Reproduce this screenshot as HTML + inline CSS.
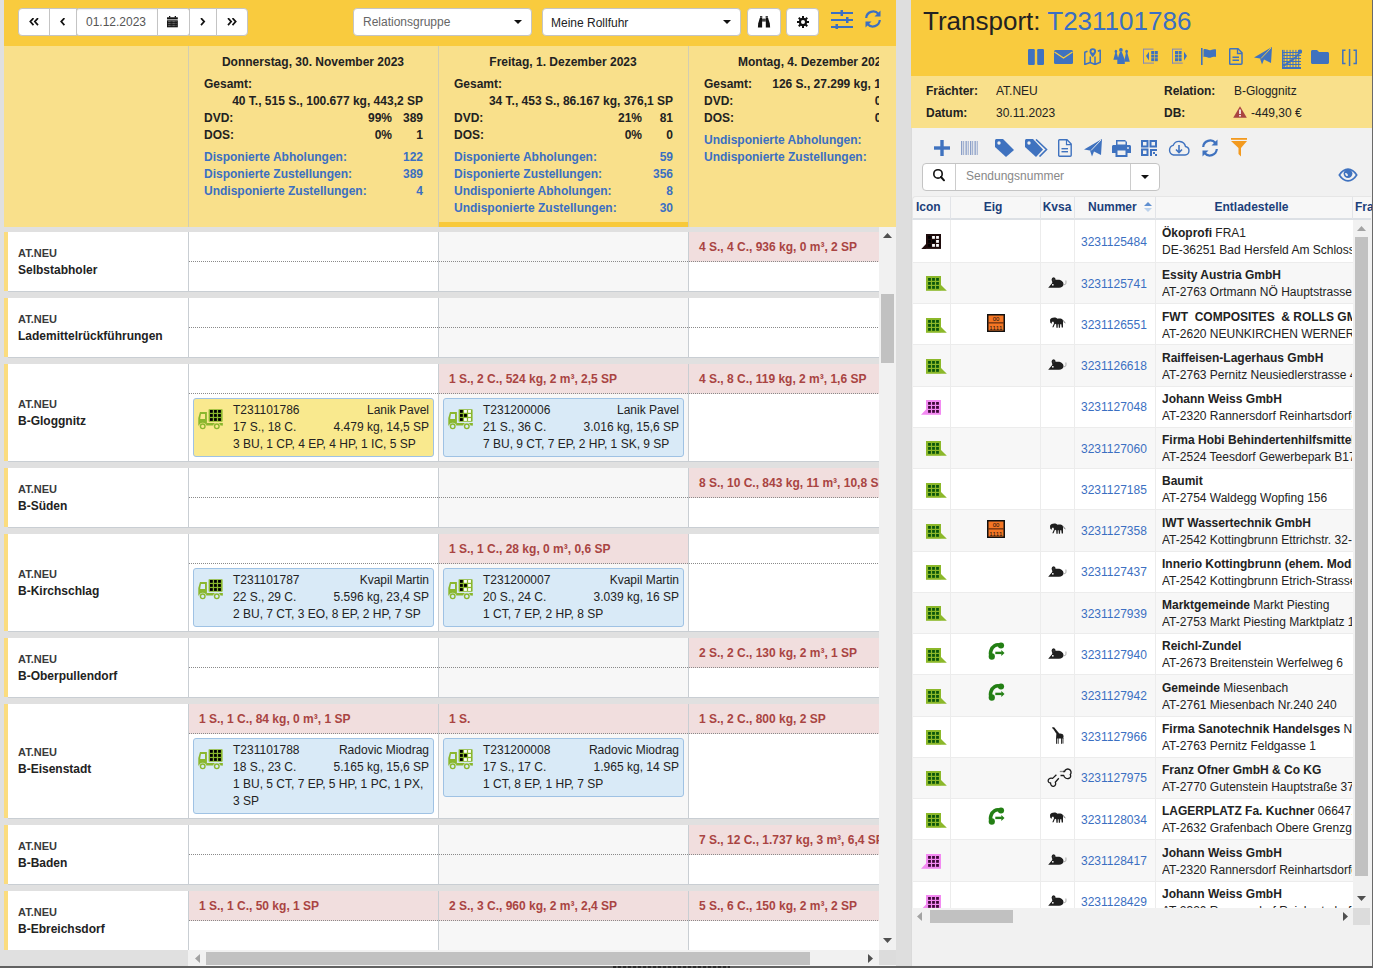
<!DOCTYPE html><html><head><meta charset="utf-8"><title>Disposition</title><style>
*{box-sizing:border-box;margin:0;padding:0}
html,body{width:1373px;height:968px;overflow:hidden}
body{position:relative;background:#e0e0e0;font-family:"Liberation Sans", sans-serif;font-size:12px;color:#222;line-height:17px}
.abs{position:absolute}
.b{font-weight:bold}
.btn{position:absolute;background:#fff;border:1px solid #c4c4c4;height:28px;top:8px;display:flex;align-items:center;justify-content:center;color:#111}
.hdr{position:absolute;top:46px;height:181px;background:#f9e08b}
.col{position:absolute;top:0;height:181px;width:250px;overflow:hidden}
.t{position:absolute;white-space:nowrap;font-weight:bold}
.r{text-align:right}
.bl{color:#3b6fc2}
.row{position:absolute;left:8px;width:871px;background:#fff;border-bottom:1px solid #c9ced3;overflow:hidden}
.lab{position:absolute;left:0;top:0;width:180px;display:flex;flex-direction:column;justify-content:center;padding-left:10px}
.lab .c{font-size:11px;font-weight:bold;color:#3a3a3a;line-height:17px}
.lab .n{font-size:12px;font-weight:bold;color:#222;line-height:17px}
.vl{position:absolute;top:0;width:1px;background:#c9ced3}
.top{position:absolute;height:30px;border-bottom:1px dotted #8a8a8a}
.pk{background:#f1dede;color:#a94442;font-weight:bold;padding-left:10px;line-height:30px;white-space:nowrap;overflow:hidden}
.card{position:absolute;border:1px solid #9fc2e4;border-radius:3px;background:#d9eaf7;padding:3px 4px 3px 39px;line-height:17px;color:#222}
.card.y{background:#f9e98e}
.card .l{display:flex;justify-content:space-between;white-space:nowrap}
.truck{position:absolute;left:4px;top:10px}

</style></head><body>
<div class="abs" style="left:4px;top:0;width:892px;height:46px;background:#f9cb3e"></div>
<div class="btn" style="left:18px;width:32px;border-radius:4px 0 0 4px"><svg width="10" height="8" viewBox="0 0.4 10 8"><path d="M4.5 0.5L1.3 4L4.5 7.5M9 0.5L5.8 4L9 7.5" fill="none" stroke="#111" stroke-width="1.7"/></svg></div>
<div class="btn" style="left:49px;width:28px;"><svg width="6" height="8" viewBox="0.3 0.4 6 8"><path d="M4.7 0.5L1.5 4L4.7 7.5" fill="none" stroke="#111" stroke-width="1.7"/></svg></div>
<div class="btn" style="left:76px;width:82px;border-radius:3px 0 0 3px;box-shadow:inset 0 1px 1px rgba(0,0,0,.06)"><span style="color:#555;font-size:12px;position:relative;left:-1px">01.12.2023</span></div>
<div class="btn" style="left:157px;width:33px;border-radius:0 3px 3px 0"><svg width="11" height="12" viewBox="0 0 11 12" style="position:relative;left:-1px;top:-0.5px"><g fill="#111"><rect x="2" y="0" width="1.3" height="1.6"/><rect x="7.7" y="0" width="1.3" height="1.6"/><rect x="0" y="1.3" width="10.8" height="2.1"/><rect x="0" y="4.3" width="10.8" height="7"/></g><rect x="0.9" y="5.2" width="0.7" height="1" fill="#9a9a9a"/><rect x="2.2" y="5.2" width="0.7" height="1" fill="#9a9a9a"/><rect x="3.5" y="5.2" width="0.7" height="1" fill="#9a9a9a"/><rect x="4.8" y="5.2" width="0.7" height="1" fill="#9a9a9a"/><rect x="6.1" y="5.2" width="0.7" height="1" fill="#9a9a9a"/><rect x="7.4" y="5.2" width="0.7" height="1" fill="#9a9a9a"/><rect x="8.7" y="5.2" width="0.7" height="1" fill="#9a9a9a"/><rect x="0.9" y="7.2" width="0.7" height="1" fill="#9a9a9a"/><rect x="2.2" y="7.2" width="0.7" height="1" fill="#9a9a9a"/><rect x="3.5" y="7.2" width="0.7" height="1" fill="#9a9a9a"/><rect x="4.8" y="7.2" width="0.7" height="1" fill="#9a9a9a"/><rect x="6.1" y="7.2" width="0.7" height="1" fill="#9a9a9a"/><rect x="7.4" y="7.2" width="0.7" height="1" fill="#9a9a9a"/><rect x="8.7" y="7.2" width="0.7" height="1" fill="#9a9a9a"/><rect x="0.9" y="9.2" width="0.7" height="1" fill="#9a9a9a"/><rect x="2.2" y="9.2" width="0.7" height="1" fill="#9a9a9a"/><rect x="3.5" y="9.2" width="0.7" height="1" fill="#9a9a9a"/><rect x="4.8" y="9.2" width="0.7" height="1" fill="#9a9a9a"/><rect x="6.1" y="9.2" width="0.7" height="1" fill="#9a9a9a"/><rect x="7.4" y="9.2" width="0.7" height="1" fill="#9a9a9a"/><rect x="8.7" y="9.2" width="0.7" height="1" fill="#9a9a9a"/></svg></div>
<div class="btn" style="left:189px;width:28px;"><svg width="6" height="8" viewBox="0.3 0.4 6 8"><path d="M1.3 0.5L4.5 4L1.3 7.5" fill="none" stroke="#111" stroke-width="1.7"/></svg></div>
<div class="btn" style="left:216px;width:32px;border-radius:0 4px 4px 0"><svg width="10" height="8" viewBox="0 0.4 10 8"><path d="M1 0.5L4.2 4L1 7.5M5.5 0.5L8.7 4L5.5 7.5" fill="none" stroke="#111" stroke-width="1.7"/></svg></div>
<div class="btn" style="left:353px;width:179px;border-radius:4px;justify-content:space-between;padding:0 9px 0 9px"><span style="color:#666">Relationsgruppe</span><svg width="8" height="4" viewBox="0 0 8 4"><path d="M0 0H8L4 4Z" fill="#111"/></svg></div>
<div class="btn" style="left:542px;width:199px;border-radius:4px;justify-content:space-between;padding:0 9px 0 8px"><span style="color:#222;position:relative;top:1px">Meine Rollfuhr</span><svg width="8" height="4" viewBox="0 0 8 4"><path d="M0 0H8L4 4Z" fill="#111"/></svg></div>
<div class="btn" style="left:747px;width:34px;border-radius:4px"><svg width="14" height="12" viewBox="0 0 14 12"><g fill="#111"><rect x="3" y="0.2" width="2.3" height="1.5"/><rect x="8.6" y="0.2" width="2.3" height="1.5"/><path d="M2.8 2.1H5.1V11.5H0.9L1.2 7.5Z"/><path d="M8.8 2.1H11.1L12.8 7.5L13.1 11.5H8.8Z"/></g><rect x="5" y="2.6" width="3.9" height="3" fill="#444"/></svg></div>
<div class="btn" style="left:786px;width:33px;border-radius:4px"><svg width="12" height="12" viewBox="0 0 12 12"><g fill="#111"><circle cx="6" cy="6" r="4.2"/><rect x="5" y="0" width="2" height="12"/><rect x="0" y="5" width="12" height="2"/><rect x="5" y="0" width="2" height="12" transform="rotate(45 6 6)"/><rect x="5" y="0" width="2" height="12" transform="rotate(-45 6 6)"/></g><circle cx="6" cy="6" r="2" fill="#fff"/></svg></div>
<svg class="abs" style="left:831px;top:10px" width="22" height="19" viewBox="0 0 22 19"><g stroke="#3b6fc2" stroke-width="2"><path d="M0 3H22M0 10H22M0 17H22"/></g><g fill="#3b6fc2"><rect x="9.5" y="0" width="2.5" height="6"/><rect x="15" y="7" width="2.5" height="6"/><rect x="4.5" y="14" width="2.5" height="5"/></g></svg>
<svg class="abs" style="left:864px;top:10px" width="18" height="18" viewBox="0 0 18 18"><g fill="none" stroke="#3b6fc2" stroke-width="2.2"><path d="M2.2 8A7 7 0 0 1 14.5 4"/><path d="M15.8 10A7 7 0 0 1 3.5 14"/></g><path d="M16.5 0.5V6.5H10.5Z" fill="#3b6fc2"/><path d="M1.5 17.5V11.5H7.5Z" fill="#3b6fc2"/></svg>
<div class="hdr" style="left:4px;width:892px"></div>
<div class="abs" style="left:188px;top:46px;width:1px;height:181px;background:#d3cdb0"></div>
<div class="abs" style="left:438px;top:46px;width:1px;height:181px;background:#d3cdb0"></div>
<div class="abs" style="left:688px;top:46px;width:1px;height:181px;background:#d3cdb0"></div>
<div class="abs" style="left:439px;top:222px;width:249px;height:5px;background:#f8c93a"></div>
<div class="abs" style="left:188px;top:46px;width:250px;height:181px;overflow:hidden;clip-path:inset(0 0px 0 0)"><div class="t" style="left:0;width:250px;text-align:center;top:8px">Donnerstag, 30. November 2023</div><div class="t" style="left:16px;top:30px">Gesamt:</div><div class="t r" style="right:15px;top:47px">40 T., 515 S., 100.677 kg, 443,2 SP</div><div class="t" style="left:16px;top:64px">DVD:</div><div class="t r" style="right:46px;top:64px">99%</div><div class="t r" style="right:15px;top:64px">389</div><div class="t" style="left:16px;top:81px">DOS:</div><div class="t r" style="right:46px;top:81px">0%</div><div class="t r" style="right:15px;top:81px">1</div><div class="t bl" style="left:16px;top:103px">Disponierte Abholungen:</div><div class="t bl r" style="right:15px;top:103px">122</div><div class="t bl" style="left:16px;top:120px">Disponierte Zustellungen:</div><div class="t bl r" style="right:15px;top:120px">389</div><div class="t bl" style="left:16px;top:137px">Undisponierte Zustellungen:</div><div class="t bl r" style="right:15px;top:137px">4</div></div>
<div class="abs" style="left:438px;top:46px;width:250px;height:181px;overflow:hidden;clip-path:inset(0 0px 0 0)"><div class="t" style="left:0;width:250px;text-align:center;top:8px">Freitag, 1. Dezember 2023</div><div class="t" style="left:16px;top:30px">Gesamt:</div><div class="t r" style="right:15px;top:47px">34 T., 453 S., 86.167 kg, 376,1 SP</div><div class="t" style="left:16px;top:64px">DVD:</div><div class="t r" style="right:46px;top:64px">21%</div><div class="t r" style="right:15px;top:64px">81</div><div class="t" style="left:16px;top:81px">DOS:</div><div class="t r" style="right:46px;top:81px">0%</div><div class="t r" style="right:15px;top:81px">0</div><div class="t bl" style="left:16px;top:103px">Disponierte Abholungen:</div><div class="t bl r" style="right:15px;top:103px">59</div><div class="t bl" style="left:16px;top:120px">Disponierte Zustellungen:</div><div class="t bl r" style="right:15px;top:120px">356</div><div class="t bl" style="left:16px;top:137px">Undisponierte Abholungen:</div><div class="t bl r" style="right:15px;top:137px">8</div><div class="t bl" style="left:16px;top:154px">Undisponierte Zustellungen:</div><div class="t bl r" style="right:15px;top:154px">30</div></div>
<div class="abs" style="left:688px;top:46px;width:250px;height:181px;overflow:hidden;clip-path:inset(0 59px 0 0)"><div class="t" style="left:0;width:250px;text-align:center;top:8px">Montag, 4. Dezember 2023</div><div class="t" style="left:16px;top:30px">Gesamt:</div><div class="t r" style="right:15px;top:30px">126 S., 27.299 kg, 110,2 SP</div><div class="t" style="left:16px;top:47px">DVD:</div><div class="t r" style="right:46px;top:47px">0%</div><div class="t r" style="right:15px;top:47px">0</div><div class="t" style="left:16px;top:64px">DOS:</div><div class="t r" style="right:46px;top:64px">0%</div><div class="t r" style="right:15px;top:64px">0</div><div class="t bl" style="left:16px;top:86px">Undisponierte Abholungen:</div><div class="t bl r" style="right:15px;top:86px">10</div><div class="t bl" style="left:16px;top:103px">Undisponierte Zustellungen:</div><div class="t bl r" style="right:15px;top:103px">126</div></div>
<div class="abs" style="left:4px;top:227px;width:875px;height:723px;overflow:hidden">
<div class="abs" style="left:0;top:5px;width:4px;height:59px;background:#fbdc7e"></div>
<div class="row" style="left:4px;top:5px;height:60px">
<div class="lab" style="height:59px"><div class="c">AT.NEU</div><div class="n">Selbstabholer</div></div>
<div class="abs" style="left:431px;top:0;width:250px;height:59px;background:#f7f7f7"></div>
<div class="vl" style="left:180px;height:59px"></div>
<div class="top" style="left:181px;top:0;width:249px"></div>
<div class="vl" style="left:430px;height:59px"></div>
<div class="top" style="left:431px;top:0;width:249px"></div>
<div class="vl" style="left:680px;height:59px"></div>
<div class="top pk" style="left:681px;top:0;width:249px">4 S., 4 C., 936 kg, 0 m³, 2 SP</div>
</div>
<div class="abs" style="left:0;top:71px;width:4px;height:59px;background:#fbdc7e"></div>
<div class="row" style="left:4px;top:71px;height:60px">
<div class="lab" style="height:59px"><div class="c">AT.NEU</div><div class="n">Lademittelrückführungen</div></div>
<div class="abs" style="left:431px;top:0;width:250px;height:59px;background:#f7f7f7"></div>
<div class="vl" style="left:180px;height:59px"></div>
<div class="top" style="left:181px;top:0;width:249px"></div>
<div class="vl" style="left:430px;height:59px"></div>
<div class="top" style="left:431px;top:0;width:249px"></div>
<div class="vl" style="left:680px;height:59px"></div>
<div class="top" style="left:681px;top:0;width:249px"></div>
</div>
<div class="abs" style="left:0;top:137px;width:4px;height:97px;background:#fbdc7e"></div>
<div class="row" style="left:4px;top:137px;height:98px">
<div class="lab" style="height:97px"><div class="c">AT.NEU</div><div class="n">B-Gloggnitz</div></div>
<div class="abs" style="left:431px;top:0;width:250px;height:97px;background:#f7f7f7"></div>
<div class="vl" style="left:180px;height:97px"></div>
<div class="top" style="left:181px;top:0;width:249px"></div>
<div class="card y" style="left:185px;top:34px;width:241px"><svg class="truck" width="25" height="21" viewBox="0 0 25 21"><rect x="10.6" y="0.2" width="14" height="12.5" rx="0.6" fill="#8ab72e"/><rect x="12.00" y="1.00" width="2.8" height="2.8" fill="#000"/><rect x="16.05" y="1.00" width="2.8" height="2.8" fill="#000"/><rect x="20.10" y="1.00" width="2.8" height="2.8" fill="#000"/><rect x="12.00" y="5.05" width="2.8" height="2.8" fill="#000"/><rect x="16.05" y="5.05" width="2.8" height="2.8" fill="#000"/><rect x="20.10" y="5.05" width="2.8" height="2.8" fill="#000"/><rect x="12.00" y="9.10" width="2.8" height="2.8" fill="#000"/><rect x="16.05" y="9.10" width="2.8" height="2.8" fill="#000"/><rect x="20.10" y="9.10" width="2.8" height="2.8" fill="#000"/><path d="M2 3.1H8.9V16.4H0.3V9Z" fill="#8ab72e"/><path d="M3 5H7V10H2.2L2.6 7Z" fill="#f9e98e"/><rect x="8.9" y="14" width="15.7" height="2.5" fill="#8ab72e"/><circle cx="4.7" cy="17.3" r="3.6" fill="#f9e98e"/><circle cx="18.8" cy="17.3" r="3.6" fill="#f9e98e"/><circle cx="4.7" cy="17.3" r="2.3" fill="#f9e98e" stroke="#8ab72e" stroke-width="1.4"/><circle cx="18.8" cy="17.3" r="2.3" fill="#f9e98e" stroke="#8ab72e" stroke-width="1.4"/><path d="M23.2 14H24.6V16.5H23.8Z" fill="#8ab72e"/></svg><div class="l"><span>T231101786</span><span>Lanik Pavel</span></div><div class="l"><span>17 S., 18 C.</span><span>4.479 kg, 14,5 SP</span></div><div style="white-space:normal">3 BU, 1 CP, 4 EP, 4 HP, 1 IC, 5 SP</div></div>
<div class="vl" style="left:430px;height:97px"></div>
<div class="top pk" style="left:431px;top:0;width:249px">1 S., 2 C., 524 kg, 2 m³, 2,5 SP</div>
<div class="card" style="left:435px;top:34px;width:241px"><svg class="truck" width="25" height="21" viewBox="0 0 25 21"><rect x="10.6" y="0.2" width="14" height="12.5" rx="0.6" fill="#8ab72e"/><rect x="12.00" y="1.00" width="2.8" height="2.8" fill="#000"/><rect x="16.05" y="1.00" width="2.8" height="2.8" fill="#fff"/><rect x="20.10" y="1.00" width="2.8" height="2.8" fill="#fff"/><rect x="12.00" y="5.05" width="2.8" height="2.8" fill="#000"/><rect x="16.05" y="5.05" width="2.8" height="2.8" fill="#000"/><rect x="20.10" y="5.05" width="2.8" height="2.8" fill="#fff"/><rect x="12.00" y="9.10" width="2.8" height="2.8" fill="#000"/><rect x="16.05" y="9.10" width="2.8" height="2.8" fill="#fff"/><rect x="20.10" y="9.10" width="2.8" height="2.8" fill="#fff"/><path d="M2 3.1H8.9V16.4H0.3V9Z" fill="#8ab72e"/><path d="M3 5H7V10H2.2L2.6 7Z" fill="#d9eaf7"/><rect x="8.9" y="14" width="15.7" height="2.5" fill="#8ab72e"/><circle cx="4.7" cy="17.3" r="3.6" fill="#d9eaf7"/><circle cx="18.8" cy="17.3" r="3.6" fill="#d9eaf7"/><circle cx="4.7" cy="17.3" r="2.3" fill="#d9eaf7" stroke="#8ab72e" stroke-width="1.4"/><circle cx="18.8" cy="17.3" r="2.3" fill="#d9eaf7" stroke="#8ab72e" stroke-width="1.4"/><path d="M23.2 14H24.6V16.5H23.8Z" fill="#8ab72e"/></svg><div class="l"><span>T231200006</span><span>Lanik Pavel</span></div><div class="l"><span>21 S., 36 C.</span><span>3.016 kg, 15,6 SP</span></div><div style="white-space:normal">7 BU, 9 CT, 7 EP, 2 HP, 1 SK, 9 SP</div></div>
<div class="vl" style="left:680px;height:97px"></div>
<div class="top pk" style="left:681px;top:0;width:249px">4 S., 8 C., 119 kg, 2 m³, 1,6 SP</div>
</div>
<div class="abs" style="left:0;top:241px;width:4px;height:59px;background:#fbdc7e"></div>
<div class="row" style="left:4px;top:241px;height:60px">
<div class="lab" style="height:59px"><div class="c">AT.NEU</div><div class="n">B-Süden</div></div>
<div class="abs" style="left:431px;top:0;width:250px;height:59px;background:#f7f7f7"></div>
<div class="vl" style="left:180px;height:59px"></div>
<div class="top" style="left:181px;top:0;width:249px"></div>
<div class="vl" style="left:430px;height:59px"></div>
<div class="top" style="left:431px;top:0;width:249px"></div>
<div class="vl" style="left:680px;height:59px"></div>
<div class="top pk" style="left:681px;top:0;width:249px">8 S., 10 C., 843 kg, 11 m³, 10,8 SP</div>
</div>
<div class="abs" style="left:0;top:307px;width:4px;height:97px;background:#fbdc7e"></div>
<div class="row" style="left:4px;top:307px;height:98px">
<div class="lab" style="height:97px"><div class="c">AT.NEU</div><div class="n">B-Kirchschlag</div></div>
<div class="abs" style="left:431px;top:0;width:250px;height:97px;background:#f7f7f7"></div>
<div class="vl" style="left:180px;height:97px"></div>
<div class="top" style="left:181px;top:0;width:249px"></div>
<div class="card" style="left:185px;top:34px;width:241px"><svg class="truck" width="25" height="21" viewBox="0 0 25 21"><rect x="10.6" y="0.2" width="14" height="12.5" rx="0.6" fill="#8ab72e"/><rect x="12.00" y="1.00" width="2.8" height="2.8" fill="#000"/><rect x="16.05" y="1.00" width="2.8" height="2.8" fill="#000"/><rect x="20.10" y="1.00" width="2.8" height="2.8" fill="#000"/><rect x="12.00" y="5.05" width="2.8" height="2.8" fill="#000"/><rect x="16.05" y="5.05" width="2.8" height="2.8" fill="#000"/><rect x="20.10" y="5.05" width="2.8" height="2.8" fill="#000"/><rect x="12.00" y="9.10" width="2.8" height="2.8" fill="#000"/><rect x="16.05" y="9.10" width="2.8" height="2.8" fill="#000"/><rect x="20.10" y="9.10" width="2.8" height="2.8" fill="#000"/><path d="M2 3.1H8.9V16.4H0.3V9Z" fill="#8ab72e"/><path d="M3 5H7V10H2.2L2.6 7Z" fill="#d9eaf7"/><rect x="8.9" y="14" width="15.7" height="2.5" fill="#8ab72e"/><circle cx="4.7" cy="17.3" r="3.6" fill="#d9eaf7"/><circle cx="18.8" cy="17.3" r="3.6" fill="#d9eaf7"/><circle cx="4.7" cy="17.3" r="2.3" fill="#d9eaf7" stroke="#8ab72e" stroke-width="1.4"/><circle cx="18.8" cy="17.3" r="2.3" fill="#d9eaf7" stroke="#8ab72e" stroke-width="1.4"/><path d="M23.2 14H24.6V16.5H23.8Z" fill="#8ab72e"/></svg><div class="l"><span>T231101787</span><span>Kvapil Martin</span></div><div class="l"><span>22 S., 29 C.</span><span>5.596 kg, 23,4 SP</span></div><div style="white-space:normal">2 BU, 7 CT, 3 EO, 8 EP, 2 HP, 7 SP</div></div>
<div class="vl" style="left:430px;height:97px"></div>
<div class="top pk" style="left:431px;top:0;width:249px">1 S., 1 C., 28 kg, 0 m³, 0,6 SP</div>
<div class="card" style="left:435px;top:34px;width:241px"><svg class="truck" width="25" height="21" viewBox="0 0 25 21"><rect x="10.6" y="0.2" width="14" height="12.5" rx="0.6" fill="#8ab72e"/><rect x="12.00" y="1.00" width="2.8" height="2.8" fill="#000"/><rect x="16.05" y="1.00" width="2.8" height="2.8" fill="#fff"/><rect x="20.10" y="1.00" width="2.8" height="2.8" fill="#fff"/><rect x="12.00" y="5.05" width="2.8" height="2.8" fill="#000"/><rect x="16.05" y="5.05" width="2.8" height="2.8" fill="#000"/><rect x="20.10" y="5.05" width="2.8" height="2.8" fill="#fff"/><rect x="12.00" y="9.10" width="2.8" height="2.8" fill="#000"/><rect x="16.05" y="9.10" width="2.8" height="2.8" fill="#fff"/><rect x="20.10" y="9.10" width="2.8" height="2.8" fill="#fff"/><path d="M2 3.1H8.9V16.4H0.3V9Z" fill="#8ab72e"/><path d="M3 5H7V10H2.2L2.6 7Z" fill="#d9eaf7"/><rect x="8.9" y="14" width="15.7" height="2.5" fill="#8ab72e"/><circle cx="4.7" cy="17.3" r="3.6" fill="#d9eaf7"/><circle cx="18.8" cy="17.3" r="3.6" fill="#d9eaf7"/><circle cx="4.7" cy="17.3" r="2.3" fill="#d9eaf7" stroke="#8ab72e" stroke-width="1.4"/><circle cx="18.8" cy="17.3" r="2.3" fill="#d9eaf7" stroke="#8ab72e" stroke-width="1.4"/><path d="M23.2 14H24.6V16.5H23.8Z" fill="#8ab72e"/></svg><div class="l"><span>T231200007</span><span>Kvapil Martin</span></div><div class="l"><span>20 S., 24 C.</span><span>3.039 kg, 16 SP</span></div><div style="white-space:normal">1 CT, 7 EP, 2 HP, 8 SP</div></div>
<div class="vl" style="left:680px;height:97px"></div>
<div class="top" style="left:681px;top:0;width:249px"></div>
</div>
<div class="abs" style="left:0;top:411px;width:4px;height:59px;background:#fbdc7e"></div>
<div class="row" style="left:4px;top:411px;height:60px">
<div class="lab" style="height:59px"><div class="c">AT.NEU</div><div class="n">B-Oberpullendorf</div></div>
<div class="abs" style="left:431px;top:0;width:250px;height:59px;background:#f7f7f7"></div>
<div class="vl" style="left:180px;height:59px"></div>
<div class="top" style="left:181px;top:0;width:249px"></div>
<div class="vl" style="left:430px;height:59px"></div>
<div class="top" style="left:431px;top:0;width:249px"></div>
<div class="vl" style="left:680px;height:59px"></div>
<div class="top pk" style="left:681px;top:0;width:249px">2 S., 2 C., 130 kg, 2 m³, 1 SP</div>
</div>
<div class="abs" style="left:0;top:477px;width:4px;height:114px;background:#fbdc7e"></div>
<div class="row" style="left:4px;top:477px;height:115px">
<div class="lab" style="height:114px"><div class="c">AT.NEU</div><div class="n">B-Eisenstadt</div></div>
<div class="abs" style="left:431px;top:0;width:250px;height:114px;background:#f7f7f7"></div>
<div class="vl" style="left:180px;height:114px"></div>
<div class="top pk" style="left:181px;top:0;width:249px">1 S., 1 C., 84 kg, 0 m³, 1 SP</div>
<div class="card" style="left:185px;top:34px;width:241px"><svg class="truck" width="25" height="21" viewBox="0 0 25 21"><rect x="10.6" y="0.2" width="14" height="12.5" rx="0.6" fill="#8ab72e"/><rect x="12.00" y="1.00" width="2.8" height="2.8" fill="#000"/><rect x="16.05" y="1.00" width="2.8" height="2.8" fill="#000"/><rect x="20.10" y="1.00" width="2.8" height="2.8" fill="#000"/><rect x="12.00" y="5.05" width="2.8" height="2.8" fill="#000"/><rect x="16.05" y="5.05" width="2.8" height="2.8" fill="#000"/><rect x="20.10" y="5.05" width="2.8" height="2.8" fill="#000"/><rect x="12.00" y="9.10" width="2.8" height="2.8" fill="#000"/><rect x="16.05" y="9.10" width="2.8" height="2.8" fill="#000"/><rect x="20.10" y="9.10" width="2.8" height="2.8" fill="#000"/><path d="M2 3.1H8.9V16.4H0.3V9Z" fill="#8ab72e"/><path d="M3 5H7V10H2.2L2.6 7Z" fill="#d9eaf7"/><rect x="8.9" y="14" width="15.7" height="2.5" fill="#8ab72e"/><circle cx="4.7" cy="17.3" r="3.6" fill="#d9eaf7"/><circle cx="18.8" cy="17.3" r="3.6" fill="#d9eaf7"/><circle cx="4.7" cy="17.3" r="2.3" fill="#d9eaf7" stroke="#8ab72e" stroke-width="1.4"/><circle cx="18.8" cy="17.3" r="2.3" fill="#d9eaf7" stroke="#8ab72e" stroke-width="1.4"/><path d="M23.2 14H24.6V16.5H23.8Z" fill="#8ab72e"/></svg><div class="l"><span>T231101788</span><span>Radovic Miodrag</span></div><div class="l"><span>18 S., 23 C.</span><span>5.165 kg, 15,6 SP</span></div><div style="white-space:normal">1 BU, 5 CT, 7 EP, 5 HP, 1 PC, 1 PX, 3 SP</div></div>
<div class="vl" style="left:430px;height:114px"></div>
<div class="top pk" style="left:431px;top:0;width:249px">1 S.</div>
<div class="card" style="left:435px;top:34px;width:241px"><svg class="truck" width="25" height="21" viewBox="0 0 25 21"><rect x="10.6" y="0.2" width="14" height="12.5" rx="0.6" fill="#8ab72e"/><rect x="12.00" y="1.00" width="2.8" height="2.8" fill="#000"/><rect x="16.05" y="1.00" width="2.8" height="2.8" fill="#fff"/><rect x="20.10" y="1.00" width="2.8" height="2.8" fill="#fff"/><rect x="12.00" y="5.05" width="2.8" height="2.8" fill="#000"/><rect x="16.05" y="5.05" width="2.8" height="2.8" fill="#000"/><rect x="20.10" y="5.05" width="2.8" height="2.8" fill="#fff"/><rect x="12.00" y="9.10" width="2.8" height="2.8" fill="#000"/><rect x="16.05" y="9.10" width="2.8" height="2.8" fill="#fff"/><rect x="20.10" y="9.10" width="2.8" height="2.8" fill="#fff"/><path d="M2 3.1H8.9V16.4H0.3V9Z" fill="#8ab72e"/><path d="M3 5H7V10H2.2L2.6 7Z" fill="#d9eaf7"/><rect x="8.9" y="14" width="15.7" height="2.5" fill="#8ab72e"/><circle cx="4.7" cy="17.3" r="3.6" fill="#d9eaf7"/><circle cx="18.8" cy="17.3" r="3.6" fill="#d9eaf7"/><circle cx="4.7" cy="17.3" r="2.3" fill="#d9eaf7" stroke="#8ab72e" stroke-width="1.4"/><circle cx="18.8" cy="17.3" r="2.3" fill="#d9eaf7" stroke="#8ab72e" stroke-width="1.4"/><path d="M23.2 14H24.6V16.5H23.8Z" fill="#8ab72e"/></svg><div class="l"><span>T231200008</span><span>Radovic Miodrag</span></div><div class="l"><span>17 S., 17 C.</span><span>1.965 kg, 14 SP</span></div><div style="white-space:normal">1 CT, 8 EP, 1 HP, 7 SP</div></div>
<div class="vl" style="left:680px;height:114px"></div>
<div class="top pk" style="left:681px;top:0;width:249px">1 S., 2 C., 800 kg, 2 SP</div>
</div>
<div class="abs" style="left:0;top:598px;width:4px;height:59px;background:#fbdc7e"></div>
<div class="row" style="left:4px;top:598px;height:60px">
<div class="lab" style="height:59px"><div class="c">AT.NEU</div><div class="n">B-Baden</div></div>
<div class="abs" style="left:431px;top:0;width:250px;height:59px;background:#f7f7f7"></div>
<div class="vl" style="left:180px;height:59px"></div>
<div class="top" style="left:181px;top:0;width:249px"></div>
<div class="vl" style="left:430px;height:59px"></div>
<div class="top" style="left:431px;top:0;width:249px"></div>
<div class="vl" style="left:680px;height:59px"></div>
<div class="top pk" style="left:681px;top:0;width:249px">7 S., 12 C., 1.737 kg, 3 m³, 6,4 SP</div>
</div>
<div class="abs" style="left:0;top:664px;width:4px;height:59px;background:#fbdc7e"></div>
<div class="row" style="left:4px;top:664px;height:60px">
<div class="lab" style="height:59px"><div class="c">AT.NEU</div><div class="n">B-Ebreichsdorf</div></div>
<div class="abs" style="left:431px;top:0;width:250px;height:59px;background:#f7f7f7"></div>
<div class="vl" style="left:180px;height:59px"></div>
<div class="top pk" style="left:181px;top:0;width:249px">1 S., 1 C., 50 kg, 1 SP</div>
<div class="vl" style="left:430px;height:59px"></div>
<div class="top pk" style="left:431px;top:0;width:249px">2 S., 3 C., 960 kg, 2 m³, 2,4 SP</div>
<div class="vl" style="left:680px;height:59px"></div>
<div class="top pk" style="left:681px;top:0;width:249px">5 S., 6 C., 150 kg, 2 m³, 2 SP</div>
</div>
</div>
<div class="abs" style="left:879px;top:227px;width:17px;height:723px;background:#f1f1f1"></div>
<svg class="abs" style="left:883px;top:233px" width="9" height="5" viewBox="0 0 9 5"><path d="M0 5L4.5 0L9 5Z" fill="#505050"/></svg>
<svg class="abs" style="left:883px;top:938px" width="9" height="5" viewBox="0 0 9 5"><path d="M0 0L4.5 5L9 0Z" fill="#505050"/></svg>
<div class="abs" style="left:881px;top:294px;width:13px;height:69px;background:#c1c1c1"></div>
<div class="abs" style="left:188px;top:950px;width:691px;height:16px;background:#f1f1f1"></div>
<svg class="abs" style="left:195px;top:954px" width="5" height="9" viewBox="0 0 5 9"><path d="M5 0L0 4.5L5 9Z" fill="#a3a3a3"/></svg>
<svg class="abs" style="left:868px;top:954px" width="5" height="9" viewBox="0 0 5 9"><path d="M0 0L5 4.5L0 9Z" fill="#505050"/></svg>
<div class="abs" style="left:206px;top:952px;width:604px;height:13px;background:#c1c1c1"></div>
<div class="abs" style="left:879px;top:950px;width:17px;height:16px;background:#dcdcdc"></div>
<div class="abs" style="left:896px;top:0;width:15px;height:968px;background:#dedede"></div>
<div class="abs" style="left:911px;top:0;width:461px;height:966px;background:#f1f1f1;border-left:1px solid #dadada"></div>
<div class="abs" style="left:911px;top:0;width:461px;height:76px;background:#f9cb3e"></div>
<div class="abs" style="left:911px;top:76px;width:461px;height:52px;background:#f9e08b"></div>
<div class="abs" style="left:1372px;top:0;width:1px;height:968px;background:#6a6a6a"></div>
<div class="abs" style="left:0;top:966px;width:1373px;height:2px;background:#626262"></div>
<div class="abs" style="left:613px;top:966px;width:117px;height:2px;background:repeating-linear-gradient(90deg,#2a2a2a 0 3px,#555 3px 5px)"></div>
<div class="abs" style="left:188px;top:965px;width:708px;height:1px;background:#f4f4f4"></div>
<div class="abs" style="left:923px;top:5px;font-size:26px;line-height:32px;color:#222;white-space:nowrap">Transport: <span style="color:#3b6fc2">T231101786</span></div>
<svg class="abs" style="left:1028px;top:49px" width="16" height="16" viewBox="0 0 16 16"><rect x="0" y="0" width="6.8" height="16" rx="1.2" fill="#3f72bf"/><rect x="9.2" y="0" width="6.8" height="16" rx="1.2" fill="#3f72bf"/></svg>
<svg class="abs" style="left:1054px;top:50px" width="19" height="14" viewBox="0 0 19 14"><rect x="0" y="0" width="19" height="14" rx="1.5" fill="#3f72bf"/><path d="M0.5 2L9.5 8L18.5 2" fill="none" stroke="#f9cb3e" stroke-width="1.3"/></svg>
<svg class="abs" style="left:1084px;top:48px" width="17" height="17" viewBox="0 0 17 17"><path d="M3.5 3.2L0.8 4.2V16.5L6.2 14.5L11 16.5L16.2 14.3V2.2L13.8 3.2M6.3 8.5V14.5M11 8.5V16.2" fill="none" stroke="#3f72bf" stroke-width="1.5" stroke-linejoin="round"/><path d="M8.8 0.2A3.3 3.3 0 0 1 12.1 3.5C12.1 5.5 8.8 9.2 8.8 9.2C8.8 9.2 5.5 5.5 5.5 3.5A3.3 3.3 0 0 1 8.8 0.2Z" fill="#3f72bf"/><circle cx="8.8" cy="3.4" r="1.3" fill="#f9cb3e"/></svg>
<svg class="abs" style="left:1113px;top:48px" width="17" height="16" viewBox="0 0 17 16"><g fill="#3f72bf"><ellipse cx="2.9" cy="3.4" rx="1.3" ry="1.6"/><path d="M2.3 4.6H3.6L5.6 11.8H0.4Z"/><ellipse cx="7.9" cy="1.9" rx="1.85" ry="1.9"/><path d="M7 3.8H8.8L11.8 11.8V15.9H4.3V11.8Z"/><ellipse cx="13.6" cy="3.4" rx="1.4" ry="1.7"/><path d="M12.9 4.8H14.3L16.8 13.8H11.2Z"/></g></svg>
<svg class="abs" style="left:1143px;top:48px" width="16" height="16" viewBox="0 0 16 16"><g fill="#8088c0"><rect x="0" y="1" width="1" height="14.5"/><rect x="0" y="0.6" width="10.5" height="1"/><rect x="0" y="14.6" width="11" height="1"/></g><path d="M6 3.8L3 8L6 12.4Z" fill="#3f72bf"/><g fill="#3f72bf"><rect x="8.2" y="3" width="3" height="3"/><rect x="11.8" y="3" width="3" height="3"/><rect x="8.2" y="6.6" width="3" height="3"/><rect x="11.8" y="6.6" width="3" height="3"/><rect x="8.2" y="10.2" width="3" height="3"/><rect x="11.8" y="10.2" width="3" height="3"/></g></svg>
<svg class="abs" style="left:1172px;top:48px" width="16" height="16" viewBox="0 0 16 16"><g fill="#8088c0"><rect x="0" y="1" width="1" height="14.5"/><rect x="0" y="0.6" width="10" height="1"/><rect x="0" y="14.6" width="10.8" height="1"/></g><path d="M12 3.8L15 8L12 12.4Z" fill="#3f72bf"/><g fill="#3f72bf"><rect x="3" y="3" width="3" height="3"/><rect x="6.6" y="3" width="3" height="3"/><rect x="3" y="6.6" width="3" height="3"/><rect x="6.6" y="6.6" width="3" height="3"/><rect x="3" y="10.2" width="3" height="3"/><rect x="6.6" y="10.2" width="3" height="3"/></g></svg>
<svg class="abs" style="left:1201px;top:48px" width="15" height="17" viewBox="0 0 15 17"><rect x="0" y="0" width="1.6" height="17" fill="#3f72bf"/><path d="M2.5 1.5C5 0 7.5 3 10 2C12 1.3 13.5 1 15 1.5V9C13 8.5 11.5 9.3 9.5 9.7C7 10.3 5 8 2.5 9Z" fill="#3f72bf"/></svg>
<svg class="abs" style="left:1229px;top:48px" width="14" height="17" viewBox="0 0 14 17"><path d="M1.5 0.8H9L13 4.8V15.2C13 15.8 12.6 16.2 12 16.2H1.5C1 16.2 0.7 15.8 0.7 15.2V1.6C0.7 1.1 1 0.8 1.5 0.8Z" fill="none" stroke="#3f72bf" stroke-width="1.5"/><path d="M8.5 1V5.5H13" fill="none" stroke="#3f72bf" stroke-width="1.3"/><rect x="3.5" y="8.5" width="6.5" height="1.5" fill="#3f72bf"/><rect x="3.5" y="11.5" width="6.5" height="1.5" fill="#3f72bf"/></svg>
<svg class="abs" style="left:1254px;top:47px" width="18" height="18" viewBox="0 0 18 18"><path d="M18 0L0 10.5L6 11.5L8 17.5L10 12.5L17 16Z" fill="#3f72bf"/><path d="M17 1L7 11.5" stroke="#f9cb3e" stroke-width="0.9"/></svg>
<svg class="abs" style="left:1282px;top:49px" width="20" height="20" viewBox="0 0 20 20"><g fill="#3f72bf"><rect x="0" y="0.9" width="1.3" height="19"/><rect x="0" y="18" width="19" height="2"/><rect x="0" y="3.0" width="19" height="1"/><rect x="0" y="6.0" width="19" height="1"/><rect x="0" y="9.0" width="19" height="1"/><rect x="0" y="12.0" width="19" height="1"/><rect x="0" y="15.0" width="19" height="1"/><rect x="1.6" y="0.9" width="1" height="17.5"/><rect x="4.5" y="0.9" width="1" height="17.5"/><rect x="7.6" y="0.9" width="1" height="17.5"/><rect x="10.5" y="0.9" width="1" height="17.5"/><rect x="13.4" y="0.9" width="1" height="17.5"/><rect x="16.2" y="0.9" width="1" height="17.5"/></g><path d="M1.5 17L8.5 12L13.5 8.5L18 3" fill="none" stroke="#3f72bf" stroke-width="1.8"/><circle cx="18" cy="2.6" r="2.1" fill="#3f72bf"/></svg>
<svg class="abs" style="left:1311px;top:50px" width="18" height="14" viewBox="0 0 18 14"><path d="M0 1.5C0 0.7 0.7 0 1.5 0H6L8 2H16.5C17.3 2 18 2.7 18 3.5V12.5C18 13.3 17.3 14 16.5 14H1.5C0.7 14 0 13.3 0 12.5Z" fill="#3f72bf"/></svg>
<svg class="abs" style="left:1342px;top:49px" width="15" height="17" viewBox="0 0 15 17"><path d="M3.5 1.2H0.8V14.5H3.5M11.5 1.2H14.2V14.5H11.5" fill="none" stroke="#3f72bf" stroke-width="1.5"/><rect x="6.8" y="0" width="1.5" height="17" fill="#3f72bf"/></svg>
<div class="abs b" style="left:926px;top:83px">Frächter:</div><div class="abs" style="left:996px;top:83px">AT.NEU</div>
<div class="abs b" style="left:926px;top:105px">Datum:</div><div class="abs" style="left:996px;top:105px">30.11.2023</div>
<div class="abs b" style="left:1164px;top:83px">Relation:</div><div class="abs" style="left:1234px;top:83px">B-Gloggnitz</div>
<div class="abs b" style="left:1164px;top:105px">DB:</div>
<svg class="abs" style="left:1233px;top:106px" width="14" height="12" viewBox="0 0 14 12"><path d="M7 0.3L13.8 11.7H0.2Z" fill="#a94442"/><rect x="6.2" y="3.5" width="1.6" height="4.5" fill="#fff"/><rect x="6.2" y="9" width="1.6" height="1.5" fill="#fff"/></svg>
<div class="abs" style="left:1251px;top:105px">-449,30 €</div>
<svg class="abs" style="left:934px;top:140px" width="16" height="16" viewBox="0 0 16 16"><rect x="6.3" y="0" width="3.4" height="16" fill="#3f72bf"/><rect x="0" y="6.3" width="16" height="3.4" fill="#3f72bf"/></svg>
<svg class="abs" style="left:961px;top:141px" width="18" height="14" viewBox="0 0 18 14"><g fill="#8a9fc8"><rect x="0.0" y="0" width="1.3" height="14"/><rect x="2.25" y="0" width="0.9" height="14"/><rect x="4.5" y="0" width="1.3" height="14"/><rect x="6.75" y="0" width="0.9" height="14"/><rect x="9.0" y="0" width="1.3" height="14"/><rect x="11.25" y="0" width="0.9" height="14"/><rect x="13.5" y="0" width="1.3" height="14"/><rect x="15.75" y="0" width="0.9" height="14"/></g></svg>
<svg class="abs" style="left:995px;top:139px" width="19" height="18" viewBox="0 0 19 18"><path d="M0 1.5C0 0.7 0.7 0 1.5 0H8L19 11L11 18L0 8Z" fill="#3f72bf"/><circle cx="4" cy="4" r="1.7" fill="#f1f1f1"/></svg>
<svg class="abs" style="left:1025px;top:139px" width="23" height="18" viewBox="0 0 23 18"><path d="M0 1.5C0 0.7 0.7 0 1.5 0H8L18 10.5L11 18L0 8Z" fill="#3f72bf"/><circle cx="4" cy="4" r="1.7" fill="#f1f1f1"/><path d="M11 0.5L21.5 10.5L14.5 17.5" fill="none" stroke="#3f72bf" stroke-width="1.6"/></svg>
<svg class="abs" style="left:1058px;top:139px" width="14" height="18" viewBox="0 0 14 18"><path d="M1.5 0.8H9L13.2 5V16.2C13.2 16.8 12.8 17.2 12.2 17.2H1.5C1 17.2 0.7 16.8 0.7 16.2V1.6C0.7 1.1 1 0.8 1.5 0.8Z" fill="none" stroke="#3f72bf" stroke-width="1.4"/><path d="M8.5 1V5.7H13" fill="none" stroke="#3f72bf" stroke-width="1.2"/><rect x="3.5" y="9" width="6.5" height="1.4" fill="#3f72bf"/><rect x="3.5" y="12" width="6.5" height="1.4" fill="#3f72bf"/></svg>
<svg class="abs" style="left:1084px;top:139px" width="18" height="18" viewBox="0 0 18 18"><path d="M18 0L0 10.5L6 11.5L8 17.5L10 12.5L17 16Z" fill="#3f72bf"/><path d="M17 1L7 11.5" stroke="#f1f1f1" stroke-width="0.9"/></svg>
<svg class="abs" style="left:1112px;top:140px" width="19" height="17" viewBox="0 0 19 17"><path d="M4 0H13L15 2V5H4Z" fill="#3f72bf"/><rect x="5.5" y="1.5" width="8" height="3" fill="#f1f1f1"/><path d="M1.5 5H17.5C18.3 5 19 5.7 19 6.5V13H15.5V17H3.5V13H0V6.5C0 5.7 0.7 5 1.5 5Z" fill="#3f72bf"/><rect x="5.5" y="10.5" width="8" height="4.5" fill="#f1f1f1"/><circle cx="16" cy="8" r="0.9" fill="#f1f1f1"/></svg>
<svg class="abs" style="left:1141px;top:140px" width="16" height="16" viewBox="0 0 16 16"><g fill="none" stroke="#3f72bf" stroke-width="2"><rect x="1" y="1" width="5.5" height="5.5"/><rect x="9.5" y="1" width="5.5" height="5.5"/><rect x="1" y="9.5" width="5.5" height="5.5"/></g><g fill="#3f72bf"><rect x="9" y="9" width="2" height="7"/><rect x="9" y="9" width="7" height="2"/><rect x="12" y="12" width="2" height="2"/><rect x="14" y="14" width="2" height="2"/></g></svg>
<svg class="abs" style="left:1168px;top:140px" width="22" height="16" viewBox="0 0 22 16"><path d="M5.5 15H17A4.3 4.3 0 0 0 17.5 6.5A6.5 6.5 0 0 0 5.2 5.3A5 5 0 0 0 5.5 15Z" fill="none" stroke="#3f72bf" stroke-width="1.4"/><path d="M11 5V12M8 9.5L11 12.5L14 9.5" fill="none" stroke="#3f72bf" stroke-width="1.6"/></svg>
<svg class="abs" style="left:1201px;top:139px" width="18" height="18" viewBox="0 0 18 18"><g fill="none" stroke="#3f72bf" stroke-width="2.2"><path d="M2.2 8A7 7 0 0 1 14.5 4"/><path d="M15.8 10A7 7 0 0 1 3.5 14"/></g><path d="M16.5 0.5V6.5H10.5Z" fill="#3f72bf"/><path d="M1.5 17.5V11.5H7.5Z" fill="#3f72bf"/></svg>
<svg class="abs" style="left:1231px;top:138px" width="16" height="19" viewBox="0 0 16 19"><rect x="0" y="0" width="16" height="1.8" fill="#f39a1f"/><path d="M0 3H16L10 10V18.5L7.5 16V10Z" fill="#f39a1f"/></svg>
<div class="abs" style="left:922px;top:163px;width:238px;height:28px;background:#fff;border:1px solid #c4c4c4;border-radius:4px"></div>
<div class="abs" style="left:955px;top:164px;width:1px;height:26px;background:#ccc"></div>
<div class="abs" style="left:1130px;top:164px;width:1px;height:26px;background:#ccc"></div>
<svg class="abs" style="left:932px;top:168px" width="13" height="14" viewBox="0 0 13 14"><circle cx="6" cy="5.9" r="4.2" fill="none" stroke="#111" stroke-width="1.6"/><path d="M9 9L12 12.3" stroke="#111" stroke-width="2" stroke-linecap="round"/></svg>
<div class="abs" style="left:966px;top:168px;color:#888">Sendungsnummer</div>
<svg class="abs" style="left:1141px;top:175px" width="8" height="4" viewBox="0 0 8 4"><path d="M0 0H8L4 4Z" fill="#111"/></svg>
<svg class="abs" style="left:1338px;top:168px" width="20" height="14" viewBox="0 0 20 14"><path d="M0.3 7C3 2.5 6.5 0.3 10 0.3S17 2.5 19.7 7C17 11.5 13.5 13.7 10 13.7S3 11.5 0.3 7Z" fill="#3f72bf"/><path d="M2.4 7C4.6 3.6 7.2 2 10 2S15.4 3.6 17.6 7C15.4 10.4 12.8 12 10 12S4.6 10.4 2.4 7Z" fill="#f1f1f1"/><circle cx="10" cy="5.6" r="4.4" fill="#3f72bf"/><ellipse cx="8.5" cy="6.5" rx="1" ry="1.8" transform="rotate(-40 8.5 6.5)" fill="#f1f1f1"/></svg>
<div class="abs" style="left:912px;top:196px;width:459px;height:24px;background:#f7f7f7;border-top:1px solid #e6e6e6;border-left:1px solid #e6e6e6;border-radius:4px 0 0 0;border-bottom:2px solid #dce0e5"></div>
<div class="abs" style="left:950px;top:197px;width:1px;height:22px;background:#e2e4e8"></div>
<div class="abs" style="left:1040px;top:197px;width:1px;height:22px;background:#e2e4e8"></div>
<div class="abs" style="left:1074px;top:197px;width:1px;height:22px;background:#e2e4e8"></div>
<div class="abs" style="left:1155px;top:197px;width:1px;height:22px;background:#e2e4e8"></div>
<div class="abs" style="left:1352px;top:197px;width:1px;height:22px;background:#e2e4e8"></div>
<div class="abs b" style="left:916px;top:199px;color:#1c3f7a;white-space:nowrap;">Icon</div>
<div class="abs b" style="left:948px;width:90px;text-align:center;top:199px;color:#1c3f7a;white-space:nowrap">Eig</div>
<div class="abs b" style="left:1040px;width:34px;text-align:center;top:199px;color:#1c3f7a;white-space:nowrap">Kvsa</div>
<div class="abs b" style="left:1088px;top:199px;color:#1c3f7a;white-space:nowrap;">Nummer</div>
<div class="abs b" style="left:1153px;width:197px;text-align:center;top:199px;color:#1c3f7a;white-space:nowrap">Entladestelle</div>
<div class="abs b" style="left:1355px;top:199px;color:#1c3f7a;white-space:nowrap;width:17px;overflow:hidden">Fra</div>
<svg class="abs" style="left:1144px;top:202px" width="8" height="10" viewBox="0 0 8 10"><path d="M0 4L4 0L8 4Z" fill="#5f8fd0"/><path d="M0 6L4 10L8 6Z" fill="#bcd2ec"/></svg>
<div class="abs" style="left:912px;top:220px;width:441px;height:688px;overflow:hidden;border-left:1px solid #efefef">
<div class="abs" style="left:0;top:0.00px;width:440px;height:43.00px;background:#fff;border-bottom:1px solid #ececec">
<div class="abs" style="left:37px;top:0;width:1px;height:100%;background:#ececec"></div>
<div class="abs" style="left:127px;top:0;width:1px;height:100%;background:#ececec"></div>
<div class="abs" style="left:161px;top:0;width:1px;height:100%;background:#ececec"></div>
<div class="abs" style="left:242px;top:0;width:1px;height:100%;background:#ececec"></div>
<div class="abs" style="left:8px;top:14.3px;line-height:0"><svg width="20" height="15" viewBox="0 0 20 15"><rect x="5" y="0" width="15" height="14.9" fill="#1e0c0c"/><path d="M5 10V14.9H0.3Z" fill="#1e0c0c"/><rect x="7.1" y="2.0" width="2.8" height="2.8" fill="#000"/><rect x="11.1" y="2.0" width="2.8" height="2.8" fill="#fff"/><rect x="15.1" y="2.0" width="2.8" height="2.8" fill="#fff"/><rect x="7.1" y="6.0" width="2.8" height="2.8" fill="#000"/><rect x="11.1" y="6.0" width="2.8" height="2.8" fill="#000"/><rect x="15.1" y="6.0" width="2.8" height="2.8" fill="#fff"/><rect x="7.1" y="10.0" width="2.8" height="2.8" fill="#000"/><rect x="11.1" y="10.0" width="2.8" height="2.8" fill="#fff"/><rect x="15.1" y="10.0" width="2.8" height="2.8" fill="#fff"/></svg></div>
<div class="abs" style="left:168px;top:13.5px;color:#3b6fc2">3231125484</div>
<div class="abs" style="left:249px;top:4.6px;width:190px;overflow:hidden;white-space:nowrap"><b>Ökoprofi</b> FRA1<br>DE-36251 Bad Hersfeld Am Schlossgarten 3</div>
</div>
<div class="abs" style="left:0;top:43.00px;width:440px;height:41.24px;background:#f7f7f7;border-bottom:1px solid #ececec">
<div class="abs" style="left:37px;top:0;width:1px;height:100%;background:#ececec"></div>
<div class="abs" style="left:127px;top:0;width:1px;height:100%;background:#ececec"></div>
<div class="abs" style="left:161px;top:0;width:1px;height:100%;background:#ececec"></div>
<div class="abs" style="left:242px;top:0;width:1px;height:100%;background:#ececec"></div>
<div class="abs" style="left:13px;top:13.4px;line-height:0"><svg width="21" height="15" viewBox="0 0 21 15"><rect x="0" y="0" width="15" height="14.8" fill="#8cb82a"/><path d="M15 9L20.8 14.8H15Z" fill="#8cb82a"/><rect x="2.1" y="2.0" width="2.8" height="2.8" fill="#0b560b"/><rect x="6.1" y="2.0" width="2.8" height="2.8" fill="#0b560b"/><rect x="10.1" y="2.0" width="2.8" height="2.8" fill="#0b560b"/><rect x="2.1" y="6.0" width="2.8" height="2.8" fill="#0b560b"/><rect x="6.1" y="6.0" width="2.8" height="2.8" fill="#0b560b"/><rect x="10.1" y="6.0" width="2.8" height="2.8" fill="#0b560b"/><rect x="2.1" y="10.0" width="2.8" height="2.8" fill="#0b560b"/><rect x="6.1" y="10.0" width="2.8" height="2.8" fill="#0b560b"/><rect x="10.1" y="10.0" width="2.8" height="2.8" fill="#0b560b"/></svg></div>
<div class="abs" style="left:135px;top:13.9px;line-height:0"><svg width="19" height="11" viewBox="0 0 19 11"><path d="M0.2 10.8L4 6.2C4.4 3.8 6 2.7 8 2.7H10C13 2.7 15.5 4.6 15.5 7C15.5 9.5 13.5 10.8 11 10.8Z" fill="#1e1e1e"/><ellipse cx="5.6" cy="2.7" rx="2" ry="2.5" fill="#1e1e1e"/><ellipse cx="5.6" cy="2.8" rx="1" ry="1.4" fill="#333"/><rect x="4" y="7" width="1.6" height="1.6" fill="#e8e8e8"/><path d="M15.3 7.6H16.8C17.8 7.6 18.2 6 17.9 3.5" fill="none" stroke="#888" stroke-width="0.7"/></svg></div>
<div class="abs" style="left:168px;top:12.6px;color:#3b6fc2">3231125741</div>
<div class="abs" style="left:249px;top:4.3px;width:190px;overflow:hidden;white-space:nowrap"><b>Essity Austria GmbH</b><br>AT-2763 Ortmann NÖ Hauptstrasse 1</div>
</div>
<div class="abs" style="left:0;top:84.24px;width:440px;height:41.24px;background:#fff;border-bottom:1px solid #ececec">
<div class="abs" style="left:37px;top:0;width:1px;height:100%;background:#ececec"></div>
<div class="abs" style="left:127px;top:0;width:1px;height:100%;background:#ececec"></div>
<div class="abs" style="left:161px;top:0;width:1px;height:100%;background:#ececec"></div>
<div class="abs" style="left:242px;top:0;width:1px;height:100%;background:#ececec"></div>
<div class="abs" style="left:13px;top:13.4px;line-height:0"><svg width="21" height="15" viewBox="0 0 21 15"><rect x="0" y="0" width="15" height="14.8" fill="#8cb82a"/><path d="M15 9L20.8 14.8H15Z" fill="#8cb82a"/><rect x="2.1" y="2.0" width="2.8" height="2.8" fill="#0b560b"/><rect x="6.1" y="2.0" width="2.8" height="2.8" fill="#0b560b"/><rect x="10.1" y="2.0" width="2.8" height="2.8" fill="#0b560b"/><rect x="2.1" y="6.0" width="2.8" height="2.8" fill="#0b560b"/><rect x="6.1" y="6.0" width="2.8" height="2.8" fill="#0b560b"/><rect x="10.1" y="6.0" width="2.8" height="2.8" fill="#0b560b"/><rect x="2.1" y="10.0" width="2.8" height="2.8" fill="#0b560b"/><rect x="6.1" y="10.0" width="2.8" height="2.8" fill="#0b560b"/><rect x="10.1" y="10.0" width="2.8" height="2.8" fill="#0b560b"/></svg></div>
<div class="abs" style="left:74px;top:9.5px;line-height:0"><svg width="18" height="18" viewBox="0 0 18 18"><rect x="0.75" y="0.75" width="16.5" height="16.5" fill="#f47624" stroke="#111" stroke-width="1.5"/><rect x="1" y="8.2" width="16" height="1.3" fill="#6a3010"/><text x="9" y="7" font-family="Liberation Sans" font-size="6" text-anchor="middle" fill="#111">00</text><text x="9" y="15.6" font-family="Liberation Sans" font-size="6.2" text-anchor="middle" fill="#111" letter-spacing="0.3">1111</text></svg></div>
<div class="abs" style="left:136px;top:12.7px;line-height:0"><svg width="17" height="12" viewBox="0 0 17 12"><path d="M1 2.8C2 0.8 5 0 7.5 1L8.5 1.8C10 1.3 12.5 1.3 13.5 2.5C14.2 3.5 14.2 5 14 6.5L14 10.6H12.7L12.3 7.2H11.2L11 10.8H9.8L9.6 7.2H8.8L8.7 10.8H7.4L7.2 7.2L6 6.8L4.5 10.3H3.3L5 6.2L4.5 4.8H3.2L2.7 5.6L3.2 6.3L2.1 6.6L1.2 5.4Z" fill="#1e1e1e"/><path d="M14 3.2L16.3 6.2" stroke="#555" stroke-width="0.8"/></svg></div>
<div class="abs" style="left:168px;top:12.6px;color:#3b6fc2">3231126551</div>
<div class="abs" style="left:249px;top:4.3px;width:190px;overflow:hidden;white-space:nowrap"><b>FWT&nbsp; COMPOSITES&nbsp; &amp; ROLLS GMBH</b><br>AT-2620 NEUNKIRCHEN WERNERSTRASSE 2</div>
</div>
<div class="abs" style="left:0;top:125.48px;width:440px;height:41.24px;background:#f7f7f7;border-bottom:1px solid #ececec">
<div class="abs" style="left:37px;top:0;width:1px;height:100%;background:#ececec"></div>
<div class="abs" style="left:127px;top:0;width:1px;height:100%;background:#ececec"></div>
<div class="abs" style="left:161px;top:0;width:1px;height:100%;background:#ececec"></div>
<div class="abs" style="left:242px;top:0;width:1px;height:100%;background:#ececec"></div>
<div class="abs" style="left:13px;top:13.4px;line-height:0"><svg width="21" height="15" viewBox="0 0 21 15"><rect x="0" y="0" width="15" height="14.8" fill="#8cb82a"/><path d="M15 9L20.8 14.8H15Z" fill="#8cb82a"/><rect x="2.1" y="2.0" width="2.8" height="2.8" fill="#0b560b"/><rect x="6.1" y="2.0" width="2.8" height="2.8" fill="#0b560b"/><rect x="10.1" y="2.0" width="2.8" height="2.8" fill="#0b560b"/><rect x="2.1" y="6.0" width="2.8" height="2.8" fill="#0b560b"/><rect x="6.1" y="6.0" width="2.8" height="2.8" fill="#0b560b"/><rect x="10.1" y="6.0" width="2.8" height="2.8" fill="#0b560b"/><rect x="2.1" y="10.0" width="2.8" height="2.8" fill="#0b560b"/><rect x="6.1" y="10.0" width="2.8" height="2.8" fill="#0b560b"/><rect x="10.1" y="10.0" width="2.8" height="2.8" fill="#0b560b"/></svg></div>
<div class="abs" style="left:135px;top:13.9px;line-height:0"><svg width="19" height="11" viewBox="0 0 19 11"><path d="M0.2 10.8L4 6.2C4.4 3.8 6 2.7 8 2.7H10C13 2.7 15.5 4.6 15.5 7C15.5 9.5 13.5 10.8 11 10.8Z" fill="#1e1e1e"/><ellipse cx="5.6" cy="2.7" rx="2" ry="2.5" fill="#1e1e1e"/><ellipse cx="5.6" cy="2.8" rx="1" ry="1.4" fill="#333"/><rect x="4" y="7" width="1.6" height="1.6" fill="#e8e8e8"/><path d="M15.3 7.6H16.8C17.8 7.6 18.2 6 17.9 3.5" fill="none" stroke="#888" stroke-width="0.7"/></svg></div>
<div class="abs" style="left:168px;top:12.6px;color:#3b6fc2">3231126618</div>
<div class="abs" style="left:249px;top:4.3px;width:190px;overflow:hidden;white-space:nowrap"><b>Raiffeisen-Lagerhaus GmbH</b><br>AT-2763 Pernitz Neusiedlerstrasse 4</div>
</div>
<div class="abs" style="left:0;top:166.72px;width:440px;height:41.24px;background:#fff;border-bottom:1px solid #ececec">
<div class="abs" style="left:37px;top:0;width:1px;height:100%;background:#ececec"></div>
<div class="abs" style="left:127px;top:0;width:1px;height:100%;background:#ececec"></div>
<div class="abs" style="left:161px;top:0;width:1px;height:100%;background:#ececec"></div>
<div class="abs" style="left:242px;top:0;width:1px;height:100%;background:#ececec"></div>
<div class="abs" style="left:8px;top:13.4px;line-height:0"><svg width="20" height="15" viewBox="0 0 20 15"><rect x="5" y="0" width="15" height="14.8" fill="#f38af2"/><path d="M5 9.5V14.8H0Z" fill="#f38af2"/><rect x="7.1" y="2.0" width="2.8" height="2.8" fill="#3d0838"/><rect x="11.1" y="2.0" width="2.8" height="2.8" fill="#3d0838"/><rect x="15.1" y="2.0" width="2.8" height="2.8" fill="#3d0838"/><rect x="7.1" y="6.0" width="2.8" height="2.8" fill="#3d0838"/><rect x="11.1" y="6.0" width="2.8" height="2.8" fill="#3d0838"/><rect x="15.1" y="6.0" width="2.8" height="2.8" fill="#3d0838"/><rect x="7.1" y="10.0" width="2.8" height="2.8" fill="#3d0838"/><rect x="11.1" y="10.0" width="2.8" height="2.8" fill="#3d0838"/><rect x="15.1" y="10.0" width="2.8" height="2.8" fill="#3d0838"/></svg></div>
<div class="abs" style="left:168px;top:12.6px;color:#3b6fc2">3231127048</div>
<div class="abs" style="left:249px;top:4.3px;width:190px;overflow:hidden;white-space:nowrap"><b>Johann Weiss GmbH</b><br>AT-2320 Rannersdorf Reinhartsdorfgasse 2</div>
</div>
<div class="abs" style="left:0;top:207.96px;width:440px;height:41.24px;background:#f7f7f7;border-bottom:1px solid #ececec">
<div class="abs" style="left:37px;top:0;width:1px;height:100%;background:#ececec"></div>
<div class="abs" style="left:127px;top:0;width:1px;height:100%;background:#ececec"></div>
<div class="abs" style="left:161px;top:0;width:1px;height:100%;background:#ececec"></div>
<div class="abs" style="left:242px;top:0;width:1px;height:100%;background:#ececec"></div>
<div class="abs" style="left:13px;top:13.4px;line-height:0"><svg width="21" height="15" viewBox="0 0 21 15"><rect x="0" y="0" width="15" height="14.8" fill="#8cb82a"/><path d="M15 9L20.8 14.8H15Z" fill="#8cb82a"/><rect x="2.1" y="2.0" width="2.8" height="2.8" fill="#0b560b"/><rect x="6.1" y="2.0" width="2.8" height="2.8" fill="#0b560b"/><rect x="10.1" y="2.0" width="2.8" height="2.8" fill="#0b560b"/><rect x="2.1" y="6.0" width="2.8" height="2.8" fill="#0b560b"/><rect x="6.1" y="6.0" width="2.8" height="2.8" fill="#0b560b"/><rect x="10.1" y="6.0" width="2.8" height="2.8" fill="#0b560b"/><rect x="2.1" y="10.0" width="2.8" height="2.8" fill="#0b560b"/><rect x="6.1" y="10.0" width="2.8" height="2.8" fill="#0b560b"/><rect x="10.1" y="10.0" width="2.8" height="2.8" fill="#0b560b"/></svg></div>
<div class="abs" style="left:168px;top:12.6px;color:#3b6fc2">3231127060</div>
<div class="abs" style="left:249px;top:4.3px;width:190px;overflow:hidden;white-space:nowrap"><b>Firma Hobi Behindertenhilfsmittel</b><br>AT-2524 Teesdorf Gewerbepark B17</div>
</div>
<div class="abs" style="left:0;top:249.20px;width:440px;height:41.24px;background:#fff;border-bottom:1px solid #ececec">
<div class="abs" style="left:37px;top:0;width:1px;height:100%;background:#ececec"></div>
<div class="abs" style="left:127px;top:0;width:1px;height:100%;background:#ececec"></div>
<div class="abs" style="left:161px;top:0;width:1px;height:100%;background:#ececec"></div>
<div class="abs" style="left:242px;top:0;width:1px;height:100%;background:#ececec"></div>
<div class="abs" style="left:13px;top:13.4px;line-height:0"><svg width="21" height="15" viewBox="0 0 21 15"><rect x="0" y="0" width="15" height="14.8" fill="#8cb82a"/><path d="M15 9L20.8 14.8H15Z" fill="#8cb82a"/><rect x="2.1" y="2.0" width="2.8" height="2.8" fill="#0b560b"/><rect x="6.1" y="2.0" width="2.8" height="2.8" fill="#0b560b"/><rect x="10.1" y="2.0" width="2.8" height="2.8" fill="#0b560b"/><rect x="2.1" y="6.0" width="2.8" height="2.8" fill="#0b560b"/><rect x="6.1" y="6.0" width="2.8" height="2.8" fill="#0b560b"/><rect x="10.1" y="6.0" width="2.8" height="2.8" fill="#0b560b"/><rect x="2.1" y="10.0" width="2.8" height="2.8" fill="#0b560b"/><rect x="6.1" y="10.0" width="2.8" height="2.8" fill="#0b560b"/><rect x="10.1" y="10.0" width="2.8" height="2.8" fill="#0b560b"/></svg></div>
<div class="abs" style="left:168px;top:12.6px;color:#3b6fc2">3231127185</div>
<div class="abs" style="left:249px;top:4.3px;width:190px;overflow:hidden;white-space:nowrap"><b>Baumit</b><br>AT-2754 Waldegg Wopfing 156</div>
</div>
<div class="abs" style="left:0;top:290.44px;width:440px;height:41.24px;background:#f7f7f7;border-bottom:1px solid #ececec">
<div class="abs" style="left:37px;top:0;width:1px;height:100%;background:#ececec"></div>
<div class="abs" style="left:127px;top:0;width:1px;height:100%;background:#ececec"></div>
<div class="abs" style="left:161px;top:0;width:1px;height:100%;background:#ececec"></div>
<div class="abs" style="left:242px;top:0;width:1px;height:100%;background:#ececec"></div>
<div class="abs" style="left:13px;top:13.4px;line-height:0"><svg width="21" height="15" viewBox="0 0 21 15"><rect x="0" y="0" width="15" height="14.8" fill="#8cb82a"/><path d="M15 9L20.8 14.8H15Z" fill="#8cb82a"/><rect x="2.1" y="2.0" width="2.8" height="2.8" fill="#0b560b"/><rect x="6.1" y="2.0" width="2.8" height="2.8" fill="#0b560b"/><rect x="10.1" y="2.0" width="2.8" height="2.8" fill="#0b560b"/><rect x="2.1" y="6.0" width="2.8" height="2.8" fill="#0b560b"/><rect x="6.1" y="6.0" width="2.8" height="2.8" fill="#0b560b"/><rect x="10.1" y="6.0" width="2.8" height="2.8" fill="#0b560b"/><rect x="2.1" y="10.0" width="2.8" height="2.8" fill="#0b560b"/><rect x="6.1" y="10.0" width="2.8" height="2.8" fill="#0b560b"/><rect x="10.1" y="10.0" width="2.8" height="2.8" fill="#0b560b"/></svg></div>
<div class="abs" style="left:74px;top:9.5px;line-height:0"><svg width="18" height="18" viewBox="0 0 18 18"><rect x="0.75" y="0.75" width="16.5" height="16.5" fill="#f47624" stroke="#111" stroke-width="1.5"/><rect x="1" y="8.2" width="16" height="1.3" fill="#6a3010"/><text x="9" y="7" font-family="Liberation Sans" font-size="6" text-anchor="middle" fill="#111">00</text><text x="9" y="15.6" font-family="Liberation Sans" font-size="6.2" text-anchor="middle" fill="#111" letter-spacing="0.3">1111</text></svg></div>
<div class="abs" style="left:136px;top:12.7px;line-height:0"><svg width="17" height="12" viewBox="0 0 17 12"><path d="M1 2.8C2 0.8 5 0 7.5 1L8.5 1.8C10 1.3 12.5 1.3 13.5 2.5C14.2 3.5 14.2 5 14 6.5L14 10.6H12.7L12.3 7.2H11.2L11 10.8H9.8L9.6 7.2H8.8L8.7 10.8H7.4L7.2 7.2L6 6.8L4.5 10.3H3.3L5 6.2L4.5 4.8H3.2L2.7 5.6L3.2 6.3L2.1 6.6L1.2 5.4Z" fill="#1e1e1e"/><path d="M14 3.2L16.3 6.2" stroke="#555" stroke-width="0.8"/></svg></div>
<div class="abs" style="left:168px;top:12.6px;color:#3b6fc2">3231127358</div>
<div class="abs" style="left:249px;top:4.3px;width:190px;overflow:hidden;white-space:nowrap"><b>IWT Wassertechnik GmbH</b><br>AT-2542 Kottingbrunn Ettrichstr. 32-34</div>
</div>
<div class="abs" style="left:0;top:331.68px;width:440px;height:41.24px;background:#fff;border-bottom:1px solid #ececec">
<div class="abs" style="left:37px;top:0;width:1px;height:100%;background:#ececec"></div>
<div class="abs" style="left:127px;top:0;width:1px;height:100%;background:#ececec"></div>
<div class="abs" style="left:161px;top:0;width:1px;height:100%;background:#ececec"></div>
<div class="abs" style="left:242px;top:0;width:1px;height:100%;background:#ececec"></div>
<div class="abs" style="left:13px;top:13.4px;line-height:0"><svg width="21" height="15" viewBox="0 0 21 15"><rect x="0" y="0" width="15" height="14.8" fill="#8cb82a"/><path d="M15 9L20.8 14.8H15Z" fill="#8cb82a"/><rect x="2.1" y="2.0" width="2.8" height="2.8" fill="#0b560b"/><rect x="6.1" y="2.0" width="2.8" height="2.8" fill="#0b560b"/><rect x="10.1" y="2.0" width="2.8" height="2.8" fill="#0b560b"/><rect x="2.1" y="6.0" width="2.8" height="2.8" fill="#0b560b"/><rect x="6.1" y="6.0" width="2.8" height="2.8" fill="#0b560b"/><rect x="10.1" y="6.0" width="2.8" height="2.8" fill="#0b560b"/><rect x="2.1" y="10.0" width="2.8" height="2.8" fill="#0b560b"/><rect x="6.1" y="10.0" width="2.8" height="2.8" fill="#0b560b"/><rect x="10.1" y="10.0" width="2.8" height="2.8" fill="#0b560b"/></svg></div>
<div class="abs" style="left:135px;top:13.9px;line-height:0"><svg width="19" height="11" viewBox="0 0 19 11"><path d="M0.2 10.8L4 6.2C4.4 3.8 6 2.7 8 2.7H10C13 2.7 15.5 4.6 15.5 7C15.5 9.5 13.5 10.8 11 10.8Z" fill="#1e1e1e"/><ellipse cx="5.6" cy="2.7" rx="2" ry="2.5" fill="#1e1e1e"/><ellipse cx="5.6" cy="2.8" rx="1" ry="1.4" fill="#333"/><rect x="4" y="7" width="1.6" height="1.6" fill="#e8e8e8"/><path d="M15.3 7.6H16.8C17.8 7.6 18.2 6 17.9 3.5" fill="none" stroke="#888" stroke-width="0.7"/></svg></div>
<div class="abs" style="left:168px;top:12.6px;color:#3b6fc2">3231127437</div>
<div class="abs" style="left:249px;top:4.3px;width:190px;overflow:hidden;white-space:nowrap"><b>Innerio Kottingbrunn (ehem. Modine)</b><br>AT-2542 Kottingbrunn Etrich-Strasse 1</div>
</div>
<div class="abs" style="left:0;top:372.92px;width:440px;height:41.24px;background:#f7f7f7;border-bottom:1px solid #ececec">
<div class="abs" style="left:37px;top:0;width:1px;height:100%;background:#ececec"></div>
<div class="abs" style="left:127px;top:0;width:1px;height:100%;background:#ececec"></div>
<div class="abs" style="left:161px;top:0;width:1px;height:100%;background:#ececec"></div>
<div class="abs" style="left:242px;top:0;width:1px;height:100%;background:#ececec"></div>
<div class="abs" style="left:13px;top:13.4px;line-height:0"><svg width="21" height="15" viewBox="0 0 21 15"><rect x="0" y="0" width="15" height="14.8" fill="#8cb82a"/><path d="M15 9L20.8 14.8H15Z" fill="#8cb82a"/><rect x="2.1" y="2.0" width="2.8" height="2.8" fill="#0b560b"/><rect x="6.1" y="2.0" width="2.8" height="2.8" fill="#0b560b"/><rect x="10.1" y="2.0" width="2.8" height="2.8" fill="#0b560b"/><rect x="2.1" y="6.0" width="2.8" height="2.8" fill="#0b560b"/><rect x="6.1" y="6.0" width="2.8" height="2.8" fill="#0b560b"/><rect x="10.1" y="6.0" width="2.8" height="2.8" fill="#0b560b"/><rect x="2.1" y="10.0" width="2.8" height="2.8" fill="#0b560b"/><rect x="6.1" y="10.0" width="2.8" height="2.8" fill="#0b560b"/><rect x="10.1" y="10.0" width="2.8" height="2.8" fill="#0b560b"/></svg></div>
<div class="abs" style="left:168px;top:12.6px;color:#3b6fc2">3231127939</div>
<div class="abs" style="left:249px;top:4.3px;width:190px;overflow:hidden;white-space:nowrap"><b>Marktgemeinde</b> Markt Piesting<br>AT-2753 Markt Piesting Marktplatz 1</div>
</div>
<div class="abs" style="left:0;top:414.16px;width:440px;height:41.24px;background:#fff;border-bottom:1px solid #ececec">
<div class="abs" style="left:37px;top:0;width:1px;height:100%;background:#ececec"></div>
<div class="abs" style="left:127px;top:0;width:1px;height:100%;background:#ececec"></div>
<div class="abs" style="left:161px;top:0;width:1px;height:100%;background:#ececec"></div>
<div class="abs" style="left:242px;top:0;width:1px;height:100%;background:#ececec"></div>
<div class="abs" style="left:13px;top:13.4px;line-height:0"><svg width="21" height="15" viewBox="0 0 21 15"><rect x="0" y="0" width="15" height="14.8" fill="#8cb82a"/><path d="M15 9L20.8 14.8H15Z" fill="#8cb82a"/><rect x="2.1" y="2.0" width="2.8" height="2.8" fill="#0b560b"/><rect x="6.1" y="2.0" width="2.8" height="2.8" fill="#0b560b"/><rect x="10.1" y="2.0" width="2.8" height="2.8" fill="#0b560b"/><rect x="2.1" y="6.0" width="2.8" height="2.8" fill="#0b560b"/><rect x="6.1" y="6.0" width="2.8" height="2.8" fill="#0b560b"/><rect x="10.1" y="6.0" width="2.8" height="2.8" fill="#0b560b"/><rect x="2.1" y="10.0" width="2.8" height="2.8" fill="#0b560b"/><rect x="6.1" y="10.0" width="2.8" height="2.8" fill="#0b560b"/><rect x="10.1" y="10.0" width="2.8" height="2.8" fill="#0b560b"/></svg></div>
<div class="abs" style="left:75px;top:7.8px;line-height:0"><svg width="17" height="18" viewBox="0 0 17 18"><g fill="#237f14"><path d="M12.5 3.2C8 1.8 4.3 4.3 3 8.5C2.2 11 2.5 13.3 3.5 14.8" fill="none" stroke="#237f14" stroke-width="3.6" stroke-linecap="round"/><ellipse cx="13" cy="3.6" rx="3.1" ry="3"/><ellipse cx="3.8" cy="14.5" rx="3.1" ry="3.3"/><rect x="7.3" y="9.7" width="6.5" height="2.4"/><path d="M13.3 7.9L16.5 10.9L13.3 13.9Z"/></g></svg></div>
<div class="abs" style="left:135px;top:13.9px;line-height:0"><svg width="19" height="11" viewBox="0 0 19 11"><path d="M0.2 10.8L4 6.2C4.4 3.8 6 2.7 8 2.7H10C13 2.7 15.5 4.6 15.5 7C15.5 9.5 13.5 10.8 11 10.8Z" fill="#1e1e1e"/><ellipse cx="5.6" cy="2.7" rx="2" ry="2.5" fill="#1e1e1e"/><ellipse cx="5.6" cy="2.8" rx="1" ry="1.4" fill="#333"/><rect x="4" y="7" width="1.6" height="1.6" fill="#e8e8e8"/><path d="M15.3 7.6H16.8C17.8 7.6 18.2 6 17.9 3.5" fill="none" stroke="#888" stroke-width="0.7"/></svg></div>
<div class="abs" style="left:168px;top:12.6px;color:#3b6fc2">3231127940</div>
<div class="abs" style="left:249px;top:4.3px;width:190px;overflow:hidden;white-space:nowrap"><b>Reichl-Zundel</b><br>AT-2673 Breitenstein Werfelweg 6</div>
</div>
<div class="abs" style="left:0;top:455.40px;width:440px;height:41.24px;background:#f7f7f7;border-bottom:1px solid #ececec">
<div class="abs" style="left:37px;top:0;width:1px;height:100%;background:#ececec"></div>
<div class="abs" style="left:127px;top:0;width:1px;height:100%;background:#ececec"></div>
<div class="abs" style="left:161px;top:0;width:1px;height:100%;background:#ececec"></div>
<div class="abs" style="left:242px;top:0;width:1px;height:100%;background:#ececec"></div>
<div class="abs" style="left:13px;top:13.4px;line-height:0"><svg width="21" height="15" viewBox="0 0 21 15"><rect x="0" y="0" width="15" height="14.8" fill="#8cb82a"/><path d="M15 9L20.8 14.8H15Z" fill="#8cb82a"/><rect x="2.1" y="2.0" width="2.8" height="2.8" fill="#0b560b"/><rect x="6.1" y="2.0" width="2.8" height="2.8" fill="#0b560b"/><rect x="10.1" y="2.0" width="2.8" height="2.8" fill="#0b560b"/><rect x="2.1" y="6.0" width="2.8" height="2.8" fill="#0b560b"/><rect x="6.1" y="6.0" width="2.8" height="2.8" fill="#0b560b"/><rect x="10.1" y="6.0" width="2.8" height="2.8" fill="#0b560b"/><rect x="2.1" y="10.0" width="2.8" height="2.8" fill="#0b560b"/><rect x="6.1" y="10.0" width="2.8" height="2.8" fill="#0b560b"/><rect x="10.1" y="10.0" width="2.8" height="2.8" fill="#0b560b"/></svg></div>
<div class="abs" style="left:75px;top:7.8px;line-height:0"><svg width="17" height="18" viewBox="0 0 17 18"><g fill="#237f14"><path d="M12.5 3.2C8 1.8 4.3 4.3 3 8.5C2.2 11 2.5 13.3 3.5 14.8" fill="none" stroke="#237f14" stroke-width="3.6" stroke-linecap="round"/><ellipse cx="13" cy="3.6" rx="3.1" ry="3"/><ellipse cx="3.8" cy="14.5" rx="3.1" ry="3.3"/><rect x="7.3" y="9.7" width="6.5" height="2.4"/><path d="M13.3 7.9L16.5 10.9L13.3 13.9Z"/></g></svg></div>
<div class="abs" style="left:168px;top:12.6px;color:#3b6fc2">3231127942</div>
<div class="abs" style="left:249px;top:4.3px;width:190px;overflow:hidden;white-space:nowrap"><b>Gemeinde</b> Miesenbach<br>AT-2761 Miesenbach Nr.240 240</div>
</div>
<div class="abs" style="left:0;top:496.64px;width:440px;height:41.24px;background:#fff;border-bottom:1px solid #ececec">
<div class="abs" style="left:37px;top:0;width:1px;height:100%;background:#ececec"></div>
<div class="abs" style="left:127px;top:0;width:1px;height:100%;background:#ececec"></div>
<div class="abs" style="left:161px;top:0;width:1px;height:100%;background:#ececec"></div>
<div class="abs" style="left:242px;top:0;width:1px;height:100%;background:#ececec"></div>
<div class="abs" style="left:13px;top:13.4px;line-height:0"><svg width="21" height="15" viewBox="0 0 21 15"><rect x="0" y="0" width="15" height="14.8" fill="#8cb82a"/><path d="M15 9L20.8 14.8H15Z" fill="#8cb82a"/><rect x="2.1" y="2.0" width="2.8" height="2.8" fill="#0b560b"/><rect x="6.1" y="2.0" width="2.8" height="2.8" fill="#0b560b"/><rect x="10.1" y="2.0" width="2.8" height="2.8" fill="#0b560b"/><rect x="2.1" y="6.0" width="2.8" height="2.8" fill="#0b560b"/><rect x="6.1" y="6.0" width="2.8" height="2.8" fill="#0b560b"/><rect x="10.1" y="6.0" width="2.8" height="2.8" fill="#0b560b"/><rect x="2.1" y="10.0" width="2.8" height="2.8" fill="#0b560b"/><rect x="6.1" y="10.0" width="2.8" height="2.8" fill="#0b560b"/><rect x="10.1" y="10.0" width="2.8" height="2.8" fill="#0b560b"/></svg></div>
<div class="abs" style="left:139px;top:10.7px;line-height:0"><svg width="12" height="18" viewBox="0 0 12 18"><g fill="#1e1e1e"><ellipse cx="1.3" cy="1.1" rx="1.3" ry="0.8" transform="rotate(25 1.3 1.1)"/><path d="M0.9 1.6L2.3 0.6L7.3 6.6L5.2 8Z"/><path d="M4.3 7.2C6 6.1 9.5 6.4 11 7.6L11.4 11.6H4Z"/><rect x="4" y="11" width="0.9" height="5.8"/><rect x="5.7" y="11" width="0.9" height="5.8"/><rect x="9" y="11" width="0.9" height="5.8"/><rect x="10.5" y="11" width="0.9" height="5.6"/></g><path d="M11 7.8L11.8 10.5" stroke="#555" stroke-width="0.6"/></svg></div>
<div class="abs" style="left:168px;top:12.6px;color:#3b6fc2">3231127966</div>
<div class="abs" style="left:249px;top:4.3px;width:190px;overflow:hidden;white-space:nowrap"><b>Firma Sanotechnik Handelsges</b> Nfg<br>AT-2763 Pernitz Feldgasse 1</div>
</div>
<div class="abs" style="left:0;top:537.88px;width:440px;height:41.24px;background:#f7f7f7;border-bottom:1px solid #ececec">
<div class="abs" style="left:37px;top:0;width:1px;height:100%;background:#ececec"></div>
<div class="abs" style="left:127px;top:0;width:1px;height:100%;background:#ececec"></div>
<div class="abs" style="left:161px;top:0;width:1px;height:100%;background:#ececec"></div>
<div class="abs" style="left:242px;top:0;width:1px;height:100%;background:#ececec"></div>
<div class="abs" style="left:13px;top:13.4px;line-height:0"><svg width="21" height="15" viewBox="0 0 21 15"><rect x="0" y="0" width="15" height="14.8" fill="#8cb82a"/><path d="M15 9L20.8 14.8H15Z" fill="#8cb82a"/><rect x="2.1" y="2.0" width="2.8" height="2.8" fill="#0b560b"/><rect x="6.1" y="2.0" width="2.8" height="2.8" fill="#0b560b"/><rect x="10.1" y="2.0" width="2.8" height="2.8" fill="#0b560b"/><rect x="2.1" y="6.0" width="2.8" height="2.8" fill="#0b560b"/><rect x="6.1" y="6.0" width="2.8" height="2.8" fill="#0b560b"/><rect x="10.1" y="6.0" width="2.8" height="2.8" fill="#0b560b"/><rect x="2.1" y="10.0" width="2.8" height="2.8" fill="#0b560b"/><rect x="6.1" y="10.0" width="2.8" height="2.8" fill="#0b560b"/><rect x="10.1" y="10.0" width="2.8" height="2.8" fill="#0b560b"/></svg></div>
<div class="abs" style="left:134px;top:10.1px;line-height:0"><svg width="25" height="20" viewBox="0 0 25 20"><g fill="none" stroke="#1a1a1a" stroke-width="1.3" stroke-linejoin="round"><path d="M13.5 7.5H16.8C17.2 9.6 19.5 11 21.5 10.5C23.5 10 24.2 8 23.2 6.6C24.6 5 24.2 2.2 22.2 1.3C20.2 0.4 18 1.6 17.6 3.5H16"/><path d="M9.4 6.8L5.6 10.4C4 9.7 1.6 10.2 1.2 12.2C0.8 14.2 2.4 15.1 3.6 14.9C3.4 16.7 4.6 18.5 6.6 18.3C8.6 18 9.1 16 8.3 14.3L11.8 10.3"/></g><path d="M12.8 3.5H16.3" stroke="#8a8a8a" stroke-width="1.3"/></svg></div>
<div class="abs" style="left:168px;top:12.6px;color:#3b6fc2">3231127975</div>
<div class="abs" style="left:249px;top:4.3px;width:190px;overflow:hidden;white-space:nowrap"><b>Franz Ofner GmbH &amp; Co KG</b><br>AT-2770 Gutenstein Hauptstraße 37</div>
</div>
<div class="abs" style="left:0;top:579.12px;width:440px;height:41.24px;background:#fff;border-bottom:1px solid #ececec">
<div class="abs" style="left:37px;top:0;width:1px;height:100%;background:#ececec"></div>
<div class="abs" style="left:127px;top:0;width:1px;height:100%;background:#ececec"></div>
<div class="abs" style="left:161px;top:0;width:1px;height:100%;background:#ececec"></div>
<div class="abs" style="left:242px;top:0;width:1px;height:100%;background:#ececec"></div>
<div class="abs" style="left:13px;top:13.4px;line-height:0"><svg width="21" height="15" viewBox="0 0 21 15"><rect x="0" y="0" width="15" height="14.8" fill="#8cb82a"/><path d="M15 9L20.8 14.8H15Z" fill="#8cb82a"/><rect x="2.1" y="2.0" width="2.8" height="2.8" fill="#0b560b"/><rect x="6.1" y="2.0" width="2.8" height="2.8" fill="#0b560b"/><rect x="10.1" y="2.0" width="2.8" height="2.8" fill="#0b560b"/><rect x="2.1" y="6.0" width="2.8" height="2.8" fill="#0b560b"/><rect x="6.1" y="6.0" width="2.8" height="2.8" fill="#0b560b"/><rect x="10.1" y="6.0" width="2.8" height="2.8" fill="#0b560b"/><rect x="2.1" y="10.0" width="2.8" height="2.8" fill="#0b560b"/><rect x="6.1" y="10.0" width="2.8" height="2.8" fill="#0b560b"/><rect x="10.1" y="10.0" width="2.8" height="2.8" fill="#0b560b"/></svg></div>
<div class="abs" style="left:75px;top:7.8px;line-height:0"><svg width="17" height="18" viewBox="0 0 17 18"><g fill="#237f14"><path d="M12.5 3.2C8 1.8 4.3 4.3 3 8.5C2.2 11 2.5 13.3 3.5 14.8" fill="none" stroke="#237f14" stroke-width="3.6" stroke-linecap="round"/><ellipse cx="13" cy="3.6" rx="3.1" ry="3"/><ellipse cx="3.8" cy="14.5" rx="3.1" ry="3.3"/><rect x="7.3" y="9.7" width="6.5" height="2.4"/><path d="M13.3 7.9L16.5 10.9L13.3 13.9Z"/></g></svg></div>
<div class="abs" style="left:136px;top:12.7px;line-height:0"><svg width="17" height="12" viewBox="0 0 17 12"><path d="M1 2.8C2 0.8 5 0 7.5 1L8.5 1.8C10 1.3 12.5 1.3 13.5 2.5C14.2 3.5 14.2 5 14 6.5L14 10.6H12.7L12.3 7.2H11.2L11 10.8H9.8L9.6 7.2H8.8L8.7 10.8H7.4L7.2 7.2L6 6.8L4.5 10.3H3.3L5 6.2L4.5 4.8H3.2L2.7 5.6L3.2 6.3L2.1 6.6L1.2 5.4Z" fill="#1e1e1e"/><path d="M14 3.2L16.3 6.2" stroke="#555" stroke-width="0.8"/></svg></div>
<div class="abs" style="left:168px;top:12.6px;color:#3b6fc2">3231128034</div>
<div class="abs" style="left:249px;top:4.3px;width:190px;overflow:hidden;white-space:nowrap"><b>LAGERPLATZ Fa. Kuchner</b> 06647111<br>AT-2632 Grafenbach Obere Grenzgasse 5</div>
</div>
<div class="abs" style="left:0;top:620.36px;width:440px;height:41.24px;background:#f7f7f7;border-bottom:1px solid #ececec">
<div class="abs" style="left:37px;top:0;width:1px;height:100%;background:#ececec"></div>
<div class="abs" style="left:127px;top:0;width:1px;height:100%;background:#ececec"></div>
<div class="abs" style="left:161px;top:0;width:1px;height:100%;background:#ececec"></div>
<div class="abs" style="left:242px;top:0;width:1px;height:100%;background:#ececec"></div>
<div class="abs" style="left:8px;top:13.4px;line-height:0"><svg width="20" height="15" viewBox="0 0 20 15"><rect x="5" y="0" width="15" height="14.8" fill="#f38af2"/><path d="M5 9.5V14.8H0Z" fill="#f38af2"/><rect x="7.1" y="2.0" width="2.8" height="2.8" fill="#3d0838"/><rect x="11.1" y="2.0" width="2.8" height="2.8" fill="#3d0838"/><rect x="15.1" y="2.0" width="2.8" height="2.8" fill="#3d0838"/><rect x="7.1" y="6.0" width="2.8" height="2.8" fill="#3d0838"/><rect x="11.1" y="6.0" width="2.8" height="2.8" fill="#3d0838"/><rect x="15.1" y="6.0" width="2.8" height="2.8" fill="#3d0838"/><rect x="7.1" y="10.0" width="2.8" height="2.8" fill="#3d0838"/><rect x="11.1" y="10.0" width="2.8" height="2.8" fill="#3d0838"/><rect x="15.1" y="10.0" width="2.8" height="2.8" fill="#3d0838"/></svg></div>
<div class="abs" style="left:135px;top:13.9px;line-height:0"><svg width="19" height="11" viewBox="0 0 19 11"><path d="M0.2 10.8L4 6.2C4.4 3.8 6 2.7 8 2.7H10C13 2.7 15.5 4.6 15.5 7C15.5 9.5 13.5 10.8 11 10.8Z" fill="#1e1e1e"/><ellipse cx="5.6" cy="2.7" rx="2" ry="2.5" fill="#1e1e1e"/><ellipse cx="5.6" cy="2.8" rx="1" ry="1.4" fill="#333"/><rect x="4" y="7" width="1.6" height="1.6" fill="#e8e8e8"/><path d="M15.3 7.6H16.8C17.8 7.6 18.2 6 17.9 3.5" fill="none" stroke="#888" stroke-width="0.7"/></svg></div>
<div class="abs" style="left:168px;top:12.6px;color:#3b6fc2">3231128417</div>
<div class="abs" style="left:249px;top:4.3px;width:190px;overflow:hidden;white-space:nowrap"><b>Johann Weiss GmbH</b><br>AT-2320 Rannersdorf Reinhartsdorfgasse 2</div>
</div>
<div class="abs" style="left:0;top:661.60px;width:440px;height:41.24px;background:#fff;border-bottom:1px solid #ececec">
<div class="abs" style="left:37px;top:0;width:1px;height:100%;background:#ececec"></div>
<div class="abs" style="left:127px;top:0;width:1px;height:100%;background:#ececec"></div>
<div class="abs" style="left:161px;top:0;width:1px;height:100%;background:#ececec"></div>
<div class="abs" style="left:242px;top:0;width:1px;height:100%;background:#ececec"></div>
<div class="abs" style="left:8px;top:13.4px;line-height:0"><svg width="20" height="15" viewBox="0 0 20 15"><rect x="5" y="0" width="15" height="14.8" fill="#f38af2"/><path d="M5 9.5V14.8H0Z" fill="#f38af2"/><rect x="7.1" y="2.0" width="2.8" height="2.8" fill="#3d0838"/><rect x="11.1" y="2.0" width="2.8" height="2.8" fill="#3d0838"/><rect x="15.1" y="2.0" width="2.8" height="2.8" fill="#3d0838"/><rect x="7.1" y="6.0" width="2.8" height="2.8" fill="#3d0838"/><rect x="11.1" y="6.0" width="2.8" height="2.8" fill="#3d0838"/><rect x="15.1" y="6.0" width="2.8" height="2.8" fill="#3d0838"/><rect x="7.1" y="10.0" width="2.8" height="2.8" fill="#3d0838"/><rect x="11.1" y="10.0" width="2.8" height="2.8" fill="#3d0838"/><rect x="15.1" y="10.0" width="2.8" height="2.8" fill="#3d0838"/></svg></div>
<div class="abs" style="left:135px;top:13.9px;line-height:0"><svg width="19" height="11" viewBox="0 0 19 11"><path d="M0.2 10.8L4 6.2C4.4 3.8 6 2.7 8 2.7H10C13 2.7 15.5 4.6 15.5 7C15.5 9.5 13.5 10.8 11 10.8Z" fill="#1e1e1e"/><ellipse cx="5.6" cy="2.7" rx="2" ry="2.5" fill="#1e1e1e"/><ellipse cx="5.6" cy="2.8" rx="1" ry="1.4" fill="#333"/><rect x="4" y="7" width="1.6" height="1.6" fill="#e8e8e8"/><path d="M15.3 7.6H16.8C17.8 7.6 18.2 6 17.9 3.5" fill="none" stroke="#888" stroke-width="0.7"/></svg></div>
<div class="abs" style="left:168px;top:12.6px;color:#3b6fc2">3231128429</div>
<div class="abs" style="left:249px;top:4.3px;width:190px;overflow:hidden;white-space:nowrap"><b>Johann Weiss GmbH</b><br>AT-2320 Rannersdorf Reinhartsdorfgasse 2</div>
</div>
</div>
<div class="abs" style="left:1353px;top:220px;width:17px;height:688px;background:#f1f1f1"></div>
<svg class="abs" style="left:1357px;top:226px" width="9" height="5" viewBox="0 0 9 5"><path d="M0 5L4.5 0L9 5Z" fill="#a3a3a3"/></svg>
<svg class="abs" style="left:1357px;top:896px" width="9" height="5" viewBox="0 0 9 5"><path d="M0 0L4.5 5L9 0Z" fill="#505050"/></svg>
<div class="abs" style="left:1355px;top:237px;width:13px;height:639px;background:#c1c1c1"></div>
<div class="abs" style="left:912px;top:908px;width:441px;height:17px;background:#f1f1f1"></div>
<svg class="abs" style="left:917px;top:912px" width="5" height="9" viewBox="0 0 5 9"><path d="M5 0L0 4.5L5 9Z" fill="#a3a3a3"/></svg>
<svg class="abs" style="left:1343px;top:912px" width="5" height="9" viewBox="0 0 5 9"><path d="M0 0L5 4.5L0 9Z" fill="#505050"/></svg>
<div class="abs" style="left:930px;top:910px;width:83px;height:13px;background:#c1c1c1"></div>
<div class="abs" style="left:1353px;top:908px;width:17px;height:17px;background:#dcdcdc"></div>
</body></html>
